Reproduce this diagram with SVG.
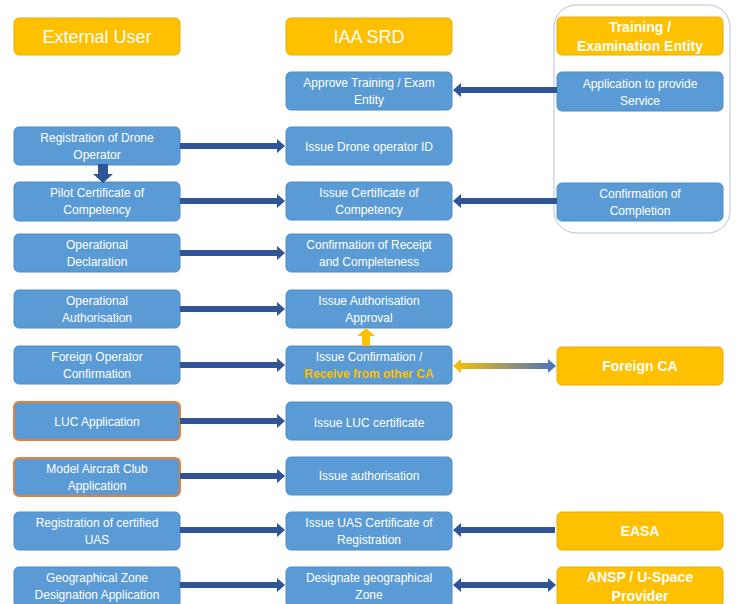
<svg xmlns="http://www.w3.org/2000/svg" width="736" height="604" viewBox="0 0 736 604">
<defs>
<style>
.b{fill:#5B9BD5;stroke:#4F8CC6;stroke-width:1}
.o{fill:#5B9BD5;stroke:#ED7D31;stroke-width:2}
.y{fill:#FFC000;stroke:#E8B000;stroke-width:1}
.t{font-family:"Liberation Sans",Arial,sans-serif;font-size:12px;fill:#fff;text-anchor:middle}
.h{font-family:"Liberation Sans",Arial,sans-serif;font-size:18px;fill:#fff;text-anchor:middle}
.hb{font-family:"Liberation Sans",Arial,sans-serif;font-size:14px;font-weight:bold;fill:#fff;text-anchor:middle}
.a{fill:#2F5597}
</style>
<linearGradient id="g" x1="0" y1="0" x2="1" y2="0">
<stop offset="0" stop-color="#FFC000"/>
<stop offset="1" stop-color="#4472C4"/>
</linearGradient>
</defs>
<rect x="554" y="5" width="176" height="228" rx="22" fill="none" stroke="#B4C4E0" stroke-width="1"/>
<g id="h1"><rect class="y" x="14" y="18" width="166" height="37" rx="5"/><text class="h" x="97" y="43">External User</text></g>
<g id="h2"><rect class="y" x="286" y="18" width="166" height="37" rx="5"/><text class="h" x="369" y="43">IAA SRD</text></g>
<g id="h3"><rect class="y" x="557" y="17" width="166" height="38" rx="5"/><text class="hb" x="640" y="32">Training /</text><text class="hb" x="640" y="51">Examination Entity</text></g>

<g id="n_approve"><rect class="b" x="286" y="72" width="166" height="38" rx="5"/><text class="t" x="369" y="87">Approve Training / Exam</text><text class="t" x="369" y="104">Entity</text></g>
<g id="n_app"><rect class="b" x="557" y="72" width="166" height="39" rx="5"/><text class="t" x="640" y="88">Application to provide</text><text class="t" x="640" y="105">Service</text></g>
<g id="n_reg"><rect class="b" x="14" y="127" width="166" height="38" rx="5"/><text class="t" x="97" y="142">Registration of Drone</text><text class="t" x="97" y="159">Operator</text></g>
<g id="n_issueid"><rect class="b" x="286" y="127" width="166" height="38" rx="5"/><text class="t" x="369" y="151">Issue Drone operator ID</text></g>
<g id="n_pilot"><rect class="b" x="14" y="182" width="166" height="39" rx="5"/><text class="t" x="97" y="197">Pilot Certificate of</text><text class="t" x="97" y="214">Competency</text></g>
<g id="n_issuecert"><rect class="b" x="286" y="182" width="166" height="38" rx="5"/><text class="t" x="369" y="197">Issue Certificate of</text><text class="t" x="369" y="214">Competency</text></g>
<g id="n_compl"><rect class="b" x="557" y="183" width="166" height="38" rx="5"/><text class="t" x="640" y="198">Confirmation of</text><text class="t" x="640" y="215">Completion</text></g>
<g id="n_opdecl"><rect class="b" x="14" y="234" width="166" height="38" rx="5"/><text class="t" x="97" y="249">Operational</text><text class="t" x="97" y="266">Declaration</text></g>
<g id="n_confrec"><rect class="b" x="286" y="234" width="166" height="38" rx="5"/><text class="t" x="369" y="249">Confirmation of Receipt</text><text class="t" x="369" y="266">and Completeness</text></g>
<g id="n_opauth"><rect class="b" x="14" y="290" width="166" height="38" rx="5"/><text class="t" x="97" y="305">Operational</text><text class="t" x="97" y="322">Authorisation</text></g>
<g id="n_issueauth"><rect class="b" x="286" y="290" width="166" height="38" rx="5"/><text class="t" x="369" y="305">Issue Authorisation</text><text class="t" x="369" y="322">Approval</text></g>
<g id="n_foreignop"><rect class="b" x="14" y="346" width="166" height="38" rx="5"/><text class="t" x="97" y="361">Foreign Operator</text><text class="t" x="97" y="378">Confirmation</text></g>
<g id="n_issueconf"><rect class="b" x="286" y="346" width="166" height="38" rx="5"/><text class="t" x="369" y="361">Issue Confirmation /</text><text class="t" x="369" y="378" style="fill:#FFC000;font-weight:bold">Receive from other CA</text></g>
<g id="n_foreignca"><rect class="y" x="557" y="347" width="166" height="38" rx="5"/><text class="hb" x="640" y="371">Foreign CA</text></g>
<g id="n_luc"><rect class="o" x="14" y="402" width="166" height="38" rx="5"/><text class="t" x="97" y="426">LUC Application</text></g>
<g id="n_issueluc"><rect class="b" x="286" y="402" width="166" height="38" rx="5"/><text class="t" x="369" y="427">Issue LUC certificate</text></g>
<g id="n_model"><rect class="o" x="14" y="458" width="166" height="38" rx="5"/><text class="t" x="97" y="473">Model Aircraft Club</text><text class="t" x="97" y="490">Application</text></g>
<g id="n_issueauth2"><rect class="b" x="286" y="457" width="166" height="38" rx="5"/><text class="t" x="369" y="480">Issue authorisation</text></g>
<g id="n_regcert"><rect class="b" x="14" y="512" width="166" height="38" rx="5"/><text class="t" x="97" y="527">Registration of certified</text><text class="t" x="97" y="544">UAS</text></g>
<g id="n_issueuas"><rect class="b" x="286" y="512" width="166" height="38" rx="5"/><text class="t" x="369" y="527">Issue UAS Certificate of</text><text class="t" x="369" y="544">Registration</text></g>
<g id="n_easa"><rect class="y" x="557" y="512" width="166" height="38" rx="5"/><text class="hb" x="640" y="536">EASA</text></g>
<g id="n_geo"><rect class="b" x="14" y="567" width="166" height="40" rx="5"/><text class="t" x="97" y="582">Geographical Zone</text><text class="t" x="97" y="599">Designation Application</text></g>
<g id="n_desig"><rect class="b" x="286" y="567" width="166" height="40" rx="5"/><text class="t" x="369" y="582">Designate geographical</text><text class="t" x="369" y="599">Zone</text></g>
<g id="n_ansp"><rect class="y" x="557" y="567" width="166" height="40" rx="5"/><text class="hb" x="640" y="582">ANSP / U-Space</text><text class="hb" x="640" y="601">Provider</text></g>

<g id="connectors">
<path class="a" d="M180 143h97v-4l8 7l-8 7v-4h-97z"/>
<path class="a" d="M180 198h97v-4l8 7l-8 7v-4h-97z"/>
<path class="a" d="M180 250h97v-4l8 7l-8 7v-4h-97z"/>
<path class="a" d="M180 306h97v-4l8 7l-8 7v-4h-97z"/>
<path class="a" d="M180 362h97v-4l8 7l-8 7v-4h-97z"/>
<path class="a" d="M180 418h97v-4l8 7l-8 7v-4h-97z"/>
<path class="a" d="M180 473h97v-4l8 7l-8 7v-4h-97z"/>
<path class="a" d="M180 527h97v-4l8 7l-8 7v-4h-97z"/>
<path class="a" d="M180 582h97v-4l8 7l-8 7v-4h-97z"/>
<path class="a" d="M557 87h-96v-4l-8 7l8 7v-4h96z"/>
<path class="a" d="M557 198h-96v-4l-8 7l8 7v-4h96z"/>
<path class="a" d="M555 527h-94v-4l-8 7l8 7v-4h94z"/>
<path class="a" d="M461 582h87v-4l8 7l-8 7v-4h-87v4l-8-7l8-7z"/>
<path fill="url(#g)" d="M461 363h87v-4l8 7l-8 7v-4h-87v4l-8-7l8-7z"/>
<path class="a" d="M98 164h10v10h5l-10 9l-10-9h5z"/>
<path fill="#FFC000" d="M362 346v-10h-5l9-8l9 8h-5v10z"/>
</g>
</svg>
